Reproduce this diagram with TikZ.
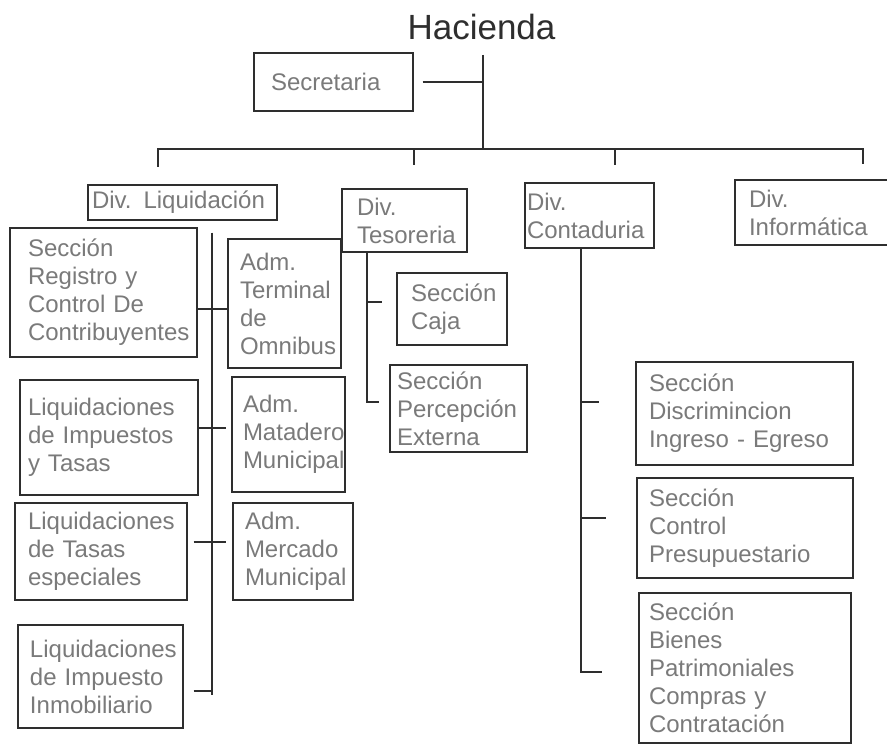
\documentclass[tikz,border=0pt]{standalone}
\usepackage{fontspec}
\setmainfont{Liberation Sans}
\definecolor{ink}{HTML}{2E2E2E}
\definecolor{txt}{HTML}{7A7A7A}

\begin{document}
\begin{tikzpicture}[x=1pt,y=-1pt,
    box/.style={draw=ink,line width=1.3pt,align=left,inner ysep=0pt,text=txt,
      font=\fontsize{24}{28}\selectfont},
    wire/.style={draw=ink,line width=1.3pt}]
    \useasboundingbox (0,0) rectangle (887,754);
    \fill[white] (0,0) rectangle (887,754);

    \node[text=ink,font=\fontsize{35}{40}\selectfont,anchor=base] (hacienda) at (481.5,40) {Hacienda};
    \node[box,minimum height=58,inner xsep=17,text width=125] (secretaria) at (333.5,82) {Secretaria};

    % divisiones
    \node[box,minimum height=35,inner xsep=4,text width=181] (divliq) at (182.5,202.5) {Div. Liquidación};
    \node[box,minimum height=63,inner xsep=15,text width=95] (divtes) at (404.5,220.5) {Div.\\Tesoreria};
    \node[box,minimum height=65,inner xsep=2,text width=125] (divcon) at (589.5,215.5) {Div.\\Contaduria};
    \node[box,minimum height=65,inner xsep=14,text width=137] (divinf) at (817.5,212.5) {Div.\\Informática};

    \node[box,minimum height=129,inner xsep=18,text width=151] (registro) at (103.5,292.5) {Sección\\Registro y\\Control De\\Contribuyentes};
    \node[box,minimum height=115,inner xsep=8,text width=162] (liqimp) at (109,437.5) {Liquidaciones\\de Impuestos\\y Tasas};
    \node[box,minimum height=97,inner xsep=13,text width=146] (liqtas) at (101,551.5) {Liquidaciones\\de Tasas\\especiales};
    \node[box,minimum height=103,inner xsep=12,text width=141] (liqinm) at (100.5,676.5) {Liquidaciones\\de Impuesto\\Inmobiliario};

    \node[box,minimum height=129,inner xsep=12,text width=89] (terminal) at (284.5,303.5) {Adm.\\Terminal\\de\\Omnibus};
    \node[box,minimum height=115,inner xsep=11,text width=91] (matadero) at (288.5,434.5) {Adm.\\Matadero\\Municipal};
    \node[box,minimum height=97,inner xsep=12,text width=96] (mercado) at (293,551.5) {Adm.\\Mercado\\Municipal};

    \node[box,minimum height=72,inner xsep=14,text width=82] (caja) at (452,309) {Sección\\Caja};
    \node[box,minimum height=87,inner xsep=7,text width=123] (percepcion) at (458.5,408.5) {Sección\\Percepción\\Externa};

    \node[box,minimum height=103,inner xsep=13,text width=191] (discrim) at (744.5,413.5) {Sección\\Discrimincion\\Ingreso - Egreso};
    \node[box,minimum height=100,inner xsep=12,text width=192] (control) at (745,528) {Sección\\Control\\Presupuestario};
    \node[box,minimum height=150,inner xsep=10,text width=192] (bienes) at (745,668) {Sección\\Bienes\\Patrimoniales\\Compras y\\Contratación};

    % lineas
    \coordinate (top) at (483,55);
    \coordinate (hub) at (483,149);
    \coordinate (d1) at (158,167);
    \coordinate (d2) at (414,165);
    \coordinate (d3) at (615,165);
    \coordinate (d4) at (863,164);
    \draw[wire] (top) -- (hub);
    \draw[wire,shorten <=9pt] (secretaria.east) -- (secretaria.east -| top);
    \draw[wire] (d1) -- (d1 |- hub) -- (d4 |- hub) -- (d4);
    \draw[wire] (d2) -- (d2 |- hub);
    \draw[wire] (d3) -- (d3 |- hub);

    \coordinate (l1) at (212,309);
    \coordinate (l2) at (212,428);
    \coordinate (l3) at (212,542);
    \coordinate (l4) at (212,691);
    \coordinate (l5) at (212,695);
    \draw[wire,shorten <=12pt] (l5 |- divliq.south) -- (l5);
    \draw[wire] (l1 -| registro.east) -- (l1 -| terminal.west);
    \draw[wire,shorten >=5pt] (l2 -| liqimp.east) -- (l2 -| matadero.west);
    \draw[wire,shorten <=6pt,shorten >=6pt] (l3 -| liqtas.east) -- (l3 -| mercado.west);
    \draw[wire,shorten <=10pt] (l4 -| liqinm.east) -- (l4);

    \coordinate (t1) at (367,302);
    \coordinate (t2) at (367,402);
    \draw[wire,shorten >=10pt] (t2 |- divtes.south) -- (t2) -- (t2 -| percepcion.west);
    \draw[wire,shorten >=14pt] (t1) -- (t1 -| caja.west);

    \coordinate (c1) at (581,402);
    \coordinate (c2) at (581,518);
    \coordinate (c3) at (581,672);
    \draw[wire,shorten >=36pt] (c3 |- divcon.south) -- (c3) -- (c3 -| bienes.west);
    \draw[wire,shorten >=36pt] (c1) -- (c1 -| discrim.west);
    \draw[wire,shorten >=30pt] (c2) -- (c2 -| control.west);
\end{tikzpicture}
\end{document}
